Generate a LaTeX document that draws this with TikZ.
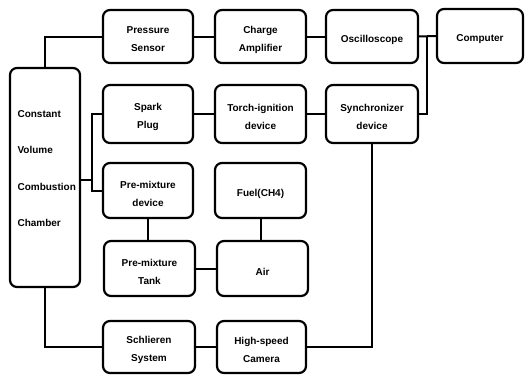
\documentclass[tikz,border=0pt]{standalone}
\usepackage{fontspec}
\setmainfont{Liberation Sans}
\begin{document}
\begin{tikzpicture}[x=1pt,y=-1pt,
  blk/.style={draw=black, line width=2.2pt, rounded corners=7pt, inner sep=0pt},
  lbl/.style={align=center, inner sep=0pt, yshift=-3pt, font=\fontsize{10}{18}\selectfont\bfseries},
  wire/.style={draw=black, line width=2pt}]
\useasboundingbox (0,0) rectangle (525,376);
% nodes
\node[blk, minimum width=70pt, minimum height=219pt] (cvcc) at (45,177.5) {};
\node[align=left, anchor=west, font=\fontsize{10}{36.5}\selectfont\bfseries] (cvcctext) at (14,168.5) {Constant\\Volume\\Combustion\\Chamber};
\node[blk, minimum width=90pt, minimum height=53pt, label={[lbl]center:{Pressure\\Sensor}}] (ps) at (148,36.5) {};
\node[blk, minimum width=91pt, minimum height=53pt, label={[lbl]center:{Charge\\Amplifier}}] (ca) at (260.5,36.5) {};
\node[blk, minimum width=92pt, minimum height=53pt, label={[lbl]center:{Oscilloscope}}] (osc) at (372,36.5) {};
\node[blk, minimum width=86pt, minimum height=54pt, label={[lbl]center:{Computer}}] (comp) at (480,36) {};
\node[blk, minimum width=90pt, minimum height=58pt, label={[lbl]center:{Spark\\Plug}}] (sp) at (148,114) {};
\node[blk, minimum width=91pt, minimum height=58pt, label={[lbl]center:{Torch-ignition\\device}}] (ti) at (260.5,114) {};
\node[blk, minimum width=92pt, minimum height=58pt, label={[lbl]center:{Synchronizer\\device}}] (sync) at (372,114) {};
\node[blk, minimum width=90pt, minimum height=55pt, label={[lbl]center:{Pre-mixture\\device}}] (pmd) at (148,190.5) {};
\node[blk, minimum width=91pt, minimum height=55pt, label={[lbl]center:{Fuel(CH4)}}] (fuel) at (260.5,190.5) {};
\node[blk, minimum width=91pt, minimum height=55pt, label={[lbl]center:{Pre-mixture\\Tank}}] (tank) at (149.5,268.5) {};
\node[blk, minimum width=91pt, minimum height=55pt, label={[lbl]center:{Air}}] (air) at (262.5,268.5) {};
\node[blk, minimum width=92pt, minimum height=52pt, label={[lbl]center:{Schlieren\\System}}] (sch) at (149,347) {};
\node[blk, minimum width=89pt, minimum height=52pt, label={[lbl]center:{High-speed\\Camera}}] (hsc) at (261.5,347) {};
% helper coordinates
\coordinate (j) at (427,36.5);
\coordinate (k) at (92,180);
% connectors
\draw[wire] (cvcc.north) |- (ps.west);
\draw[wire] (ps) -- (ca);
\draw[wire] (ca) -- (osc);
\draw[wire] (osc) -- (comp);
\draw[wire] (j) |- (sync.east);
\draw[wire] (sp) -- (ti);
\draw[wire] (ti) -- (sync);
\draw[wire] (cvcc.east |- k) -- (k);
\draw[wire] (sp.west) -| (k) |- (pmd.west);
\draw[wire] (pmd.south) -- (pmd.south |- tank.north);
\draw[wire] (fuel.south) -- (fuel.south |- air.north);
\draw[wire] (tank) -- (air);
\draw[wire] (cvcc.south) |- (sch.west);
\draw[wire] (sch) -- (hsc);
\draw[wire] (hsc.east) -| (sync.south);
\end{tikzpicture}
\end{document}
